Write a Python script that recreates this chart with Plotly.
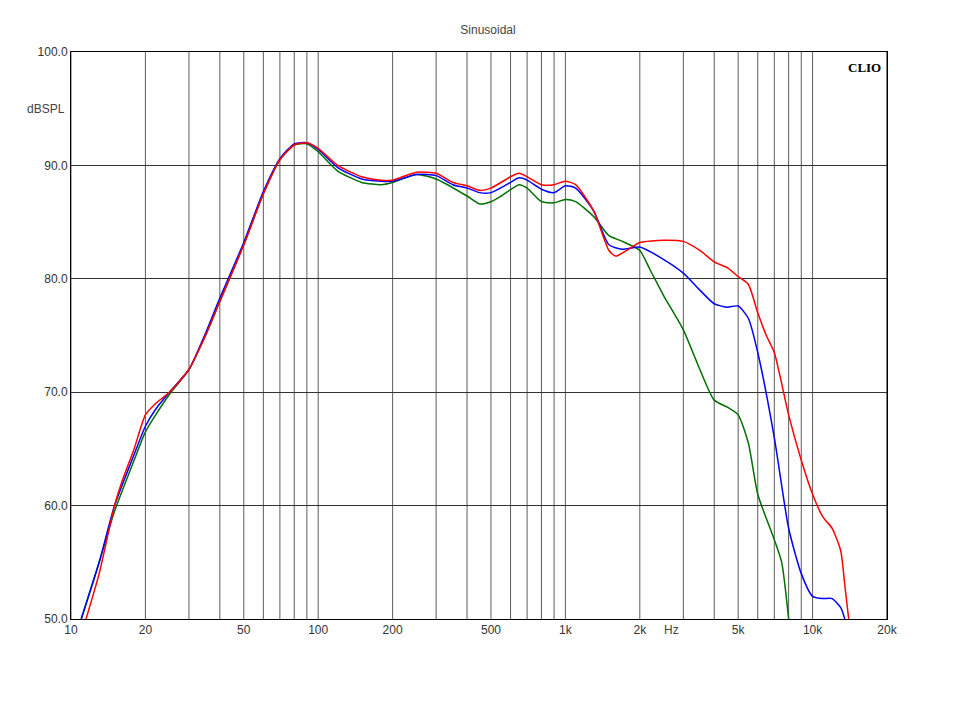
import plotly.graph_objects as go

red_f = [11.5,13,15,16,18,20,22,25,30,35,40,50,60,70,80,90,100,120,150,180,200,250,300,350,400,450,500,600,650,700,800,900,1000,1100,1300,1500,1600,1800,2000,2500,3000,3500,4000,4500,5000,5500,6000,6500,7000,8000,9000,10000,11000,12000,13000,13500,14000]
red_v = [50,54,60,62,65,68,69,70,72,75,78,83,87.5,90.5,91.8,92,91.5,90,89,88.7,88.7,89.4,89.3,88.5,88.2,87.8,88,89,89.3,89,88.3,88.3,88.6,88.3,86,82.5,82,82.6,83.2,83.4,83.3,82.5,81.5,81,80.2,79.5,77,75,73.5,68,64,61,59,58,56,53,50]
grn_f = [11,13,15,18,20,22,25,30,35,40,50,60,70,80,90,100,120,150,180,200,250,300,400,450,500,550,650,700,800,900,1000,1100,1300,1500,1700,2000,2200,2500,3000,3500,4000,4500,5000,5500,6000,7000,7500,8000]
grn_v = [50,55,59.5,64,66.5,68,69.8,72,75,78,83,87.5,90.5,91.8,91.9,91.2,89.5,88.5,88.3,88.5,89.2,88.8,87.3,86.6,86.8,87.3,88.3,88,86.8,86.7,87,86.8,85.5,83.8,83.3,82.5,80.8,78.5,75.5,72,69.3,68.7,68,65.5,61,57,55,50]
blu_f = [11,13,15,18,20,22,25,30,35,40,50,60,70,80,90,100,120,150,180,200,250,300,350,400,450,500,600,650,700,800,900,1000,1100,1300,1500,1700,2000,2500,3000,3500,4000,4500,5000,5500,6000,7000,8000,9000,10000,11000,12000,13000,13500]
blu_v = [50,55,60,64.5,67,68.5,70,72,75.2,78.3,83.2,87.7,90.6,91.9,92,91.4,89.8,88.8,88.6,88.6,89.2,89.1,88.3,88,87.6,87.6,88.5,88.9,88.7,87.9,87.6,88.2,88,86,83,82.6,82.8,81.7,80.5,79,77.8,77.5,77.6,76.5,73.5,66,58,54,52,51.8,51.8,51,50]

tick_vals = [10,20,50,100,200,500,1000,2000,5000,10000,20000]
tick_text = ["10","20","50","100","200","500","1k","2k","5k","10k","20k"]
y_vals = [50,60,70,80,90,100]
y_text = ["50.0","60.0","70.0","80.0","90.0","100.0"]

fig = go.Figure()
for f, v, c in [(grn_f, grn_v, "#007000"), (blu_f, blu_v, "#0000ff"), (red_f, red_v, "#ff0000")]:
    fig.add_trace(go.Scatter(x=f, y=v, mode="lines", line=dict(color=c, width=1.5, shape="spline", smoothing=0.6), showlegend=False))

grid_minor = []
for d in [10, 100, 1000, 10000]:
    for m in range(1, 10):
        if d*m <= 20000:
            grid_minor.append(d*m)
grid_minor.append(20000)
shapes = [dict(type="line", xref="x", yref="paper", x0=g, x1=g, y0=0, y1=1, line=dict(color="#333333", width=0.8), layer="below") for g in grid_minor]

fig.update_layout(
    width=960, height=720, paper_bgcolor="white", plot_bgcolor="white",
    margin=dict(l=63, r=81, t=44, b=109, autoexpand=False),
    font=dict(family="Arial, Liberation Sans", size=12, color="#333"),
    shapes=shapes,
    title=dict(text="Sinusoidal", x=0.5, xanchor="center", y=0.975, font=dict(size=12, color="#444")),
    xaxis=dict(type="log", range=[1, 4.30103], tickvals=tick_vals, ticktext=tick_text, showgrid=False,
               showline=True, linecolor="black", mirror=True, ticks="", zeroline=False),
    yaxis=dict(range=[50, 100], tickvals=y_vals, ticktext=y_text, showgrid=True, gridcolor="#333333", gridwidth=0.8,
               showline=True, linecolor="black", mirror=True, ticks="", zeroline=False),
    annotations=[
        dict(text="dBSPL", xref="paper", yref="y", x=0, y=95, xanchor="right", showarrow=False, xshift=-4, font=dict(size=12, color="#444")),
        dict(text="Hz", xref="x", yref="paper", x=3.43, y=0, yanchor="top", showarrow=False, yshift=-2, font=dict(size=12, color="#444")),
        dict(text="<b>CLIO</b>", xref="paper", yref="paper", x=0.995, y=0.99, xanchor="right", yanchor="top", showarrow=False,
             bgcolor="white", font=dict(family="Liberation Serif, Times New Roman", size=13, color="black")),
    ],
)
fig.write_html("out.html")
